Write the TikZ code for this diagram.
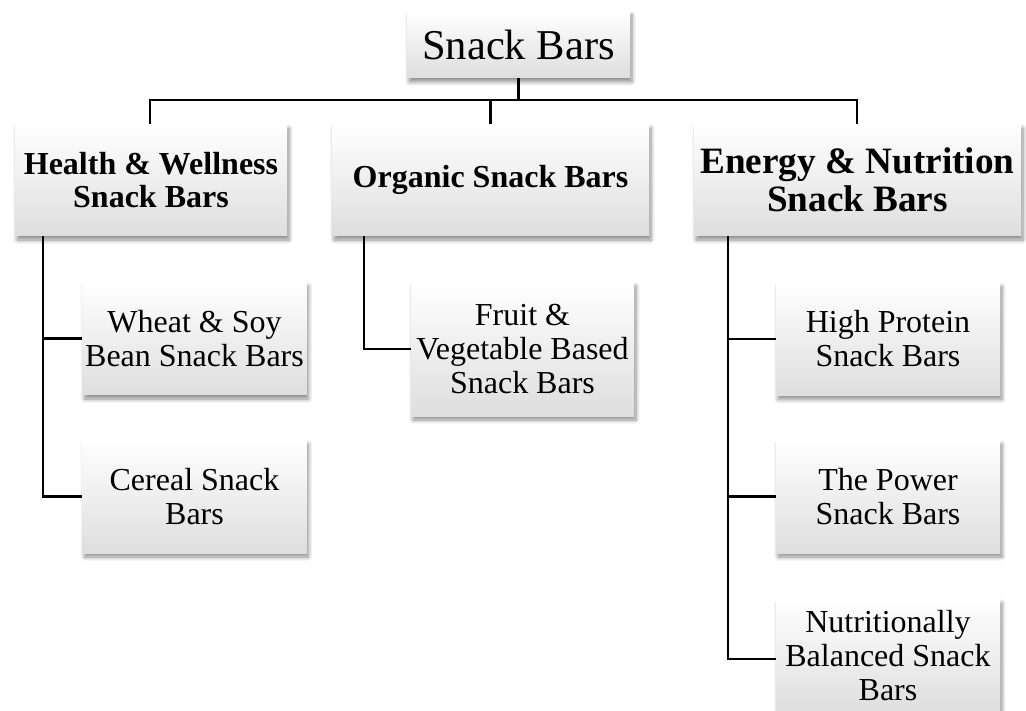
\documentclass[tikz,border=0pt]{standalone}
\usepackage{fontspec}
\setmainfont{Liberation Serif}
\usetikzlibrary{shadows.blur}
\begin{document}
\begin{tikzpicture}[x=1pt,y=-1pt,
  box/.style={rectangle, inner sep=0pt, align=center, shading=axis,
    top color=white, middle color=white, bottom color=black!13,
    blur shadow={shadow xshift=2pt, shadow yshift=-4pt, shadow blur steps=6, shadow opacity=45, shadow blur radius=4pt}},
  topbox/.style={box, minimum width=223pt, minimum height=67pt, font=\fontsize{42.5}{46}\selectfont},
  midbox/.style={box, minimum height=112pt, font=\bfseries\fontsize{32}{33}\selectfont},
  bigbox/.style={box, minimum height=112pt, font=\bfseries\fontsize{37.2}{38}\selectfont},
  leafbox/.style={box, minimum width=224pt, minimum height=113pt, font=\fontsize{32}{34}\selectfont},
  conn/.style={line width=2.8pt, black}]
\useasboundingbox (0,0) rectangle (1026,711);
\node[topbox] (top) at (518.5,44.5) {Snack Bars};
\node[midbox, minimum width=272pt] (health) at (151,180) {Health \& Wellness\\Snack Bars};
\node[midbox, minimum width=317pt] (organic) at (490.5,180) {Organic Snack Bars};
\node[bigbox, minimum width=327pt] (energy) at (857.5,180) {Energy \& Nutrition\\Snack Bars};
\node[leafbox] (wheat) at (194.5,338.5) {Wheat \& Soy\\Bean Snack Bars};
\node[leafbox] (cereal) at (194.5,496.5) {Cereal Snack\\Bars};
\node[leafbox, minimum height=134pt, minimum width=223pt] (fruit) at (522.5,349) {Fruit \&\\Vegetable Based\\Snack Bars};
\node[leafbox] (high) at (888,339) {High Protein\\Snack Bars};
\node[leafbox] (power) at (888,496.5) {The Power\\Snack Bars};
\node[leafbox] (nutri) at (888,655.5) {Nutritionally\\Balanced Snack\\Bars};
\coordinate (bus) at (518.5,100);
\coordinate (htrunk) at ([xshift=-108pt]health.south);
\coordinate (otrunk) at ([xshift=-126.5pt]organic.south);
\coordinate (etrunk) at ([xshift=-129.5pt]energy.south);
\draw[conn] (top.south) -- (bus);
\draw[conn] ([xshift=-1pt]health.north) |- (bus) -| ([xshift=-0.5pt]energy.north);
\draw[conn] (organic.north) -- (organic.north |- bus);
\draw[conn] (htrunk) |- (cereal.west);
\draw[conn] (wheat.west) -- (wheat.west -| htrunk);
\draw[conn] (otrunk) |- (fruit.west);
\draw[conn] (etrunk) |- ([yshift=-3.5pt]nutri.west);
\draw[conn] (high.west) -- (high.west -| etrunk);
\draw[conn] (power.west) -- (power.west -| etrunk);
\end{tikzpicture}
\end{document}
